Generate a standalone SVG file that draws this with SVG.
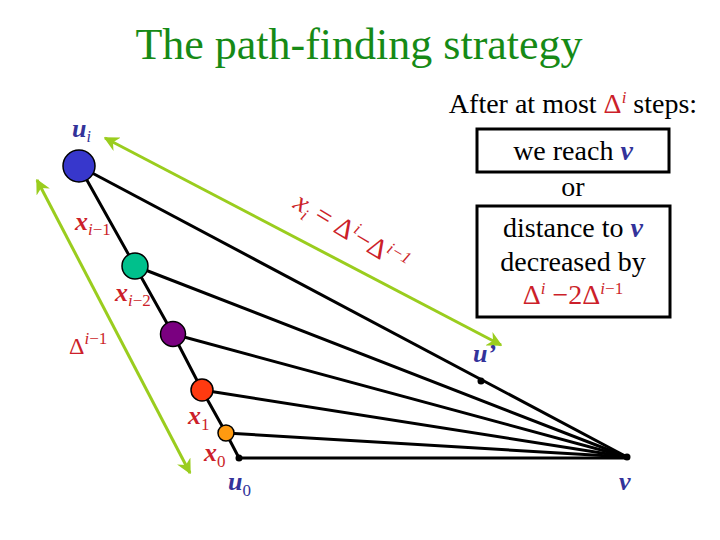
<svg xmlns="http://www.w3.org/2000/svg" width="720" height="540" viewBox="0 0 720 540" font-family="'Liberation Serif', 'Times New Roman', serif">
<style>
text{font-family:"Liberation Serif","Times New Roman",serif}
.red{fill:#cc1f2a}
.blue{fill:#33339a}
.lbl{font-style:italic;font-weight:bold;font-size:26px}
.e{stroke:#000;stroke-width:3;fill:none}
.g{stroke:#9acd1e;stroke-width:3;fill:none;marker-start:url(#ah);marker-end:url(#ah)}
.n{stroke:#000;stroke-width:1.5}
.box{fill:#fff;stroke:#000;stroke-width:3}
</style>
<defs>
<marker id="ah" viewBox="0 0 10 10" refX="9" refY="5" markerWidth="5" markerHeight="5" orient="auto-start-reverse" markerUnits="strokeWidth">
<path d="M0,0 L10,5 L0,10 L3,5 Z" fill="#9acd1e"/>
</marker>
</defs>
<rect width="720" height="540" fill="#fff"/>
<text x="359" y="59" font-size="44" fill="#168a16" text-anchor="middle">The path-finding strategy</text>

<g id="connectors">
<line class="e" x1="79" y1="166" x2="627" y2="457"/>
<line class="e" x1="135" y1="266" x2="627" y2="457"/>
<line class="e" x1="173" y1="334" x2="627" y2="457"/>
<line class="e" x1="202" y1="390" x2="627" y2="457"/>
<line class="e" x1="226" y1="433" x2="627" y2="457"/>
<line class="e" x1="239" y1="458" x2="627" y2="458"/>
<polyline class="e" points="79,166 135,266 173,334 202,390 226,433 239,458"/>
<line class="g" x1="501" y1="345" x2="105" y2="138"/>
<line class="g" x1="37" y1="180" x2="190" y2="473"/>
</g>

<g id="ui"><circle class="n" cx="79" cy="166" r="16" fill="#3737cc"/></g>
<g id="xim1"><circle class="n" cx="135" cy="266" r="13" fill="#00c08c"/></g>
<g id="xim2"><circle class="n" cx="173" cy="334" r="12.5" fill="#7a0080"/></g>
<g id="x1"><circle class="n" cx="202" cy="390" r="11" fill="#ff3a10"/></g>
<g id="x0"><circle class="n" cx="226" cy="433" r="8" fill="#ff9a10"/></g>
<g id="u0"><circle cx="239" cy="458" r="3.5" fill="#000"/></g>
<g id="uprime"><circle cx="481" cy="381" r="3.5" fill="#000"/></g>
<g id="v"><circle cx="627" cy="457" r="3.5" fill="#000"/></g>

<g id="labels">
<text class="lbl blue" x="72" y="137">u<tspan font-size="16" dy="5" font-weight="normal">i</tspan></text>
<text class="lbl red" x="75" y="230">x<tspan font-size="17" dy="5" font-weight="normal">i</tspan><tspan font-size="17" font-style="normal" font-weight="normal">−1</tspan></text>
<text class="lbl red" x="115" y="301">x<tspan font-size="17" dy="5" font-weight="normal">i</tspan><tspan font-size="17" font-style="normal" font-weight="normal">−2</tspan></text>
<text class="red" x="69" y="354" font-size="24">Δ<tspan font-size="17" font-style="italic" dy="-10">i</tspan><tspan font-size="17">−1</tspan></text>
<text class="lbl red" x="188" y="424">x<tspan font-size="17" dy="6" font-style="normal" font-weight="normal">1</tspan></text>
<text class="lbl red" x="204" y="461">x<tspan font-size="17" dy="6" font-style="normal" font-weight="normal">0</tspan></text>
<text class="lbl blue" x="228" y="490">u<tspan font-size="17" dy="6" font-style="normal" font-weight="normal">0</tspan></text>
<text class="lbl blue" x="473" y="362">u’</text>
<text class="lbl blue" x="619" y="490">v</text>
<text class="red" font-size="28" font-style="italic" transform="translate(292,207) rotate(31)">x<tspan font-size="17" dy="6">i</tspan><tspan dy="-6" font-style="normal"> = Δ</tspan><tspan font-size="17" dy="-10">i</tspan><tspan font-style="normal" dy="10">−Δ</tspan><tspan font-size="17" dy="-10">i−1</tspan></text>
</g>

<g id="info">
<text x="573" y="113" font-size="28" text-anchor="middle">After at most <tspan class="red">Δ</tspan><tspan class="red" font-size="17" font-style="italic" dy="-10">i</tspan><tspan dy="10"> steps:</tspan></text>
<rect class="box" x="477" y="129" width="192" height="43"/>
<text x="573" y="160" font-size="28" text-anchor="middle">we reach <tspan class="blue" font-style="italic" font-weight="bold">v</tspan></text>
<text x="573" y="196" font-size="28" text-anchor="middle">or</text>
<rect class="box" x="477" y="206" width="193" height="111"/>
<text x="573" y="237" font-size="28" text-anchor="middle">distance to <tspan class="blue" font-style="italic" font-weight="bold">v</tspan></text>
<text x="573" y="271" font-size="28" text-anchor="middle">decreased by</text>
<text class="red" x="573" y="304" font-size="28" text-anchor="middle">Δ<tspan font-size="17" font-style="italic" dy="-10">i</tspan><tspan dy="10"> −2Δ</tspan><tspan font-size="17" dy="-10"><tspan font-style="italic">i</tspan>−1</tspan></text>
</g>
</svg>
